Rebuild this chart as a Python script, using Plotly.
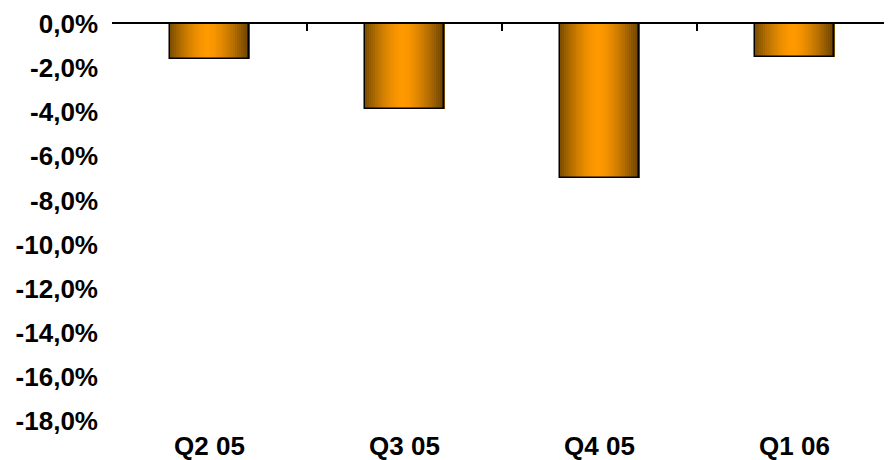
import plotly.graph_objects as go

categories = ["Q2 05", "Q3 05", "Q4 05", "Q1 06"]
values = [-1.6, -3.85, -7.0, -1.5]
y_tickvals = [0, -2, -4, -6, -8, -10, -12, -14, -16, -18]
y_ticktext = ["0,0%", "-2,0%", "-4,0%", "-6,0%", "-8,0%", "-10,0%",
              "-12,0%", "-14,0%", "-16,0%", "-18,0%"]

BAR_W = 0.41
N = 40
dark_l = (0x7a, 0x4c, 0x00)
dark_r = (0x66, 0x40, 0x00)
bright = (0xff, 0x99, 0x00)
peak = 0.47

fig = go.Figure()
dw = BAR_W / N
for i in range(N):
    u = (i + 0.5) / N
    if u < peak:
        t = (peak - u) / peak
        dark = dark_l
    else:
        t = (u - peak) / (1 - peak)
        dark = dark_r
    f = t ** 1.6
    col = tuple(round(bright[k] + (dark[k] - bright[k]) * f) for k in range(3))
    fig.add_trace(go.Bar(
        x=categories, y=values,
        offset=-BAR_W / 2 + i * dw, width=dw * 1.15,
        marker=dict(color="rgb(%d,%d,%d)" % col, line=dict(width=0)),
        showlegend=False, hoverinfo="skip",
    ))

# outline
fig.add_trace(go.Bar(
    x=categories, y=values, width=BAR_W,
    marker=dict(color="rgba(0,0,0,0)", line=dict(color="black", width=1.5)),
    showlegend=False, hoverinfo="skip",
))

# invisible trace for top axis
fig.add_trace(go.Scatter(x=[-0.5, 3.5], y=[0, 0], xaxis="x2", yaxis="y",
                         mode="lines", line=dict(width=0), opacity=0,
                         showlegend=False, hoverinfo="skip"))

font_bold = dict(family="Liberation Sans", size=26, color="black", weight="bold")

# page body has an 8px margin, so the figure is sized/positioned to compensate
fig.update_layout(
    width=884, height=452,
    margin=dict(l=104, r=0, t=16, b=39),
    plot_bgcolor="white", paper_bgcolor="white",
    barmode="overlay", bargap=0,
    xaxis=dict(type="category", showline=False, showgrid=False, zeroline=False,
               ticks="", tickfont=font_bold, ticklabelstandoff=7,
               range=[-0.5, 3.5], automargin=False),
    xaxis2=dict(type="linear", overlaying="x", side="top", anchor="y",
                range=[-0.5, 3.5], showline=True, linecolor="black", linewidth=1.5,
                ticks="inside", tickvals=[-0.5, 0.5, 1.5, 2.5, 3.5], ticklen=7,
                tickwidth=1.5, tickcolor="black", showticklabels=False,
                showgrid=False, zeroline=False, automargin=False),
    yaxis=dict(range=[-18, 0], tickvals=y_tickvals, ticktext=y_ticktext,
               showgrid=False, zeroline=False, showline=False, ticks="",
               tickfont=font_bold, ticklabelstandoff=13, automargin=False),
)

fig.write_html("out.html")
